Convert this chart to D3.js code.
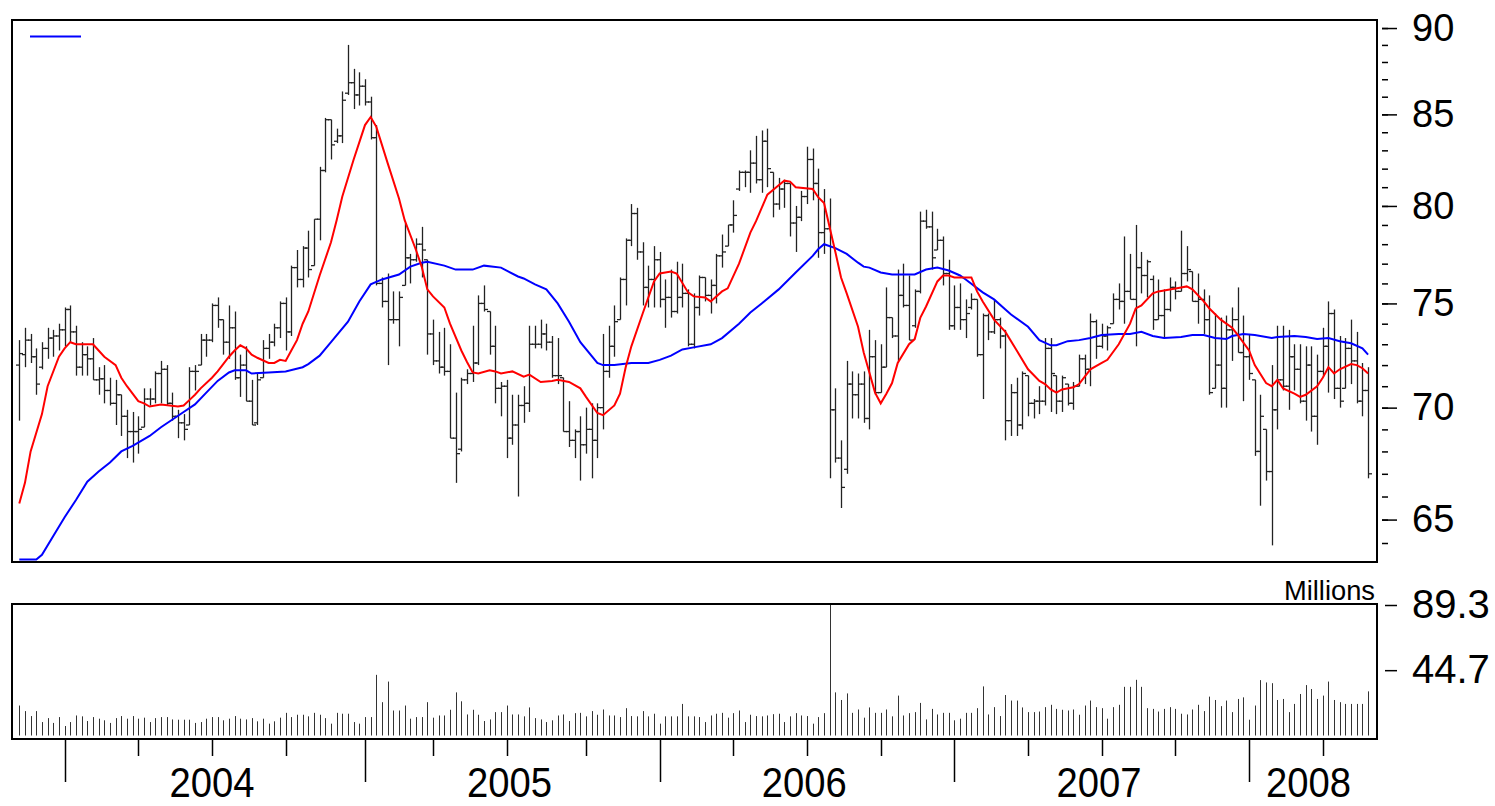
<!DOCTYPE html>
<html>
<head>
<meta charset="utf-8">
<script src="https://cdn.jsdelivr.net/npm/d3@7/dist/d3.min.js"></script>
<style>
  body { margin: 0; background: #fff; }
  svg { display: block; }
  text { font-family: "Liberation Sans", Arial, sans-serif; fill: #000; }
</style>
</head>
<body>
<svg id="chart" width="1495" height="806"></svg>
<script>
// weekly bars, first one is the week ending Fri 7 Nov 2003
const firstWeek = new Date(2003, 10, 7);

// [open, high, low, close]
const ohlc = [
  [72.0,73.2,69.4,72.55],[72.5,73.8,71.9,73.2],[73.2,73.5,72.1,72.4],[72.4,72.8,70.6,71.1],[71.9,73.1,71.8,72.8],
  [72.8,73.8,72.3,73.3],[73.3,73.7,72.4,73.4],[73.4,74.0,72.7,73.7],[73.7,74.8,72.9,74.7],[74.7,74.9,73.1,73.6],
  [73.6,73.9,71.5,71.9],[71.9,73.1,71.5,72.5],[72.5,72.9,71.5,72.3],[72.3,73.3,71.3,71.3],[71.3,71.9,70.6,71.35],
  [71.35,72.0,70.2,70.8],[70.8,71.4,70.1,70.2],[70.2,71.3,69.2,70.6],[70.6,70.6,68.7,69.6],[69.6,69.9,67.7,68.9],
  [68.9,69.8,67.5,68.9],[68.9,69.6,67.9,69.0],[69.1,70.9,69.1,70.4],[70.4,70.9,70.1,70.4],[70.4,71.7,70.2,71.6],
  [71.6,72.2,70.2,71.8],[71.8,72.0,70.1,70.2],[70.2,70.7,69.4,69.6],[69.6,69.9,68.6,69.3],[69.3,69.7,68.5,69.0],
  [69.2,71.9,69.2,71.7],[71.7,72.0,70.8,71.7],[72.0,73.5,72.0,73.2],[73.2,73.5,72.4,73.2],[73.2,75.0,73.1,74.9],
  [74.9,75.3,73.8,74.2],[74.2,74.2,72.5,73.1],[73.1,74.9,72.3,73.8],[73.8,74.6,71.3,71.4],[71.4,72.5,70.5,72.0],
  [72.0,72.9,70.3,70.3],[70.3,71.3,69.2,69.2],[69.3,71.6,69.2,71.3],[71.4,73.2,71.4,72.8],[72.8,73.5,72.3,73.1],
  [73.1,74.0,72.9,73.8],[73.8,75.1,73.3,75.0],[75.0,75.3,72.7,73.6],[73.6,76.9,73.4,76.8],[76.8,77.7,75.8,76.2],
  [76.2,77.9,75.8,77.8],[77.8,78.7,76.3,76.7],[76.9,79.3,76.9,79.3],[79.3,82.1,78.2,81.9],[81.9,84.8,81.8,84.7],
  [84.7,84.7,82.5,83.3],[83.5,84.2,83.4,83.8],[83.8,86.3,83.4,85.8],[86.2,89.0,86.1,86.8],[86.8,87.6,85.3,86.1],
  [86.1,87.4,85.5,86.6],[86.6,87.0,85.5,85.7],[85.7,86.0,83.6,83.7],[83.7,84.4,75.9,76.0],[76.0,76.3,74.8,75.1],
  [75.1,76.5,72.0,74.2],[74.2,75.6,74.0,74.2],[74.2,75.6,72.9,75.3],[75.9,79.1,75.9,77.3],[77.3,77.5,76.0,77.2],
  [77.2,78.3,77.1,78.0],[78.0,78.9,76.3,77.7],[77.2,77.2,72.5,73.5],[73.5,74.2,72.0,72.2],[72.2,73.6,71.6,71.9],
  [71.9,73.8,71.5,71.7],[71.7,73.0,68.6,68.6],[68.6,70.7,66.6,67.9],[68.1,71.4,68.0,71.3],[71.3,71.8,71.1,71.6],
  [71.6,73.9,71.2,72.1],[72.1,75.4,72.0,75.0],[75.0,75.9,74.6,74.7],[74.6,74.6,72.5,72.9],[72.9,73.9,70.2,70.9],
  [70.9,71.2,69.6,71.0],[71.0,71.3,67.7,68.6],[68.6,70.6,68.3,69.2],[69.2,70.6,66.0,70.1],[70.1,71.0,69.3,70.2],
  [70.2,73.9,69.8,73.0],[73.0,73.9,72.8,73.0],[73.0,74.2,72.8,73.5],[73.5,74.0,72.7,73.1],[73.1,73.4,71.4,71.5],
  [71.5,73.3,71.1,71.5],[71.4,71.4,68.9,68.9],[68.9,70.3,68.2,68.5],[68.5,69.0,67.7,68.9],[68.9,69.6,66.7,68.3],
  [68.3,70.0,67.9,69.0],[69.0,70.2,66.8,68.5],[68.5,70.2,67.7,70.0],[70.0,73.5,69.0,71.7],[71.7,73.9,71.4,72.9],
  [72.9,74.9,72.4,74.1],[74.2,76.3,74.2,76.2],[76.2,78.3,74.9,78.2],[78.2,80.1,77.9,79.6],[79.6,79.9,77.2,77.6],
  [77.6,78.1,74.9,75.8],[75.8,76.9,74.8,76.2],[76.2,77.9,74.8,77.2],[77.2,77.6,74.8,75.2],[75.2,76.2,73.8,75.3],
  [75.3,76.7,74.3,74.6],[74.6,77.1,74.5,75.3],[75.3,77.0,74.8,75.5],[75.5,75.7,72.9,73.0],[73.0,75.5,72.8,74.8],
  [74.8,76.4,74.4,76.3],[76.3,76.3,75.1,75.4],[75.4,76.2,74.5,75.9],[75.9,77.5,75.0,77.4],[77.4,78.5,76.8,77.6],
  [77.9,79.0,77.9,79.0],[79.0,80.3,78.6,79.5],[80.9,81.9,80.8,81.8],[81.8,81.9,81.0,81.8],[81.8,83.0,80.7,82.3],
  [82.3,83.8,81.2,81.4],[81.4,84.1,80.7,83.5],[83.5,84.2,81.0,82.0],[81.8,81.8,79.4,80.1],[80.1,81.5,79.8,80.9],
  [80.9,81.4,79.9,81.2],[81.2,81.2,78.4,79.1],[79.1,80.0,77.6,79.4],[79.4,80.8,79.2,80.5],[80.5,83.2,80.1,82.5],
  [82.5,83.1,80.3,81.2],[81.2,82.0,77.3,78.6],[78.6,80.9,77.5,78.8],[78.8,80.4,66.8,69.9],[69.9,70.9,67.5,67.7],
  [67.7,68.5,65.5,66.4],[67.2,72.2,67.0,71.1],[71.1,71.7,69.5,70.6],[70.6,71.6,69.5,71.1],[71.1,71.7,69.3,69.5],
  [69.5,73.7,69.0,72.4],[72.4,73.2,70.6,70.7],[70.7,73.0,70.7,71.9],[71.9,75.8,71.9,74.3],[74.3,74.3,73.3,73.4],
  [73.4,76.7,72.2,75.4],[75.4,77.0,74.8,74.9],[74.9,76.4,73.2,73.2],[73.9,75.7,73.8,75.6],[75.6,79.7,75.5,79.2],
  [79.2,79.8,78.8,78.9],[78.9,79.7,76.7,77.3],[77.7,78.8,77.7,78.2],[78.2,78.4,75.9,76.5],[76.5,77.2,73.7,73.9],
  [73.9,75.9,73.7,74.8],[74.8,76.0,73.7,74.2],[74.2,75.2,73.3,74.5],[74.8,75.5,74.7,75.2],[75.2,75.2,72.4,72.5],
  [72.5,74.5,70.4,74.4],[74.4,74.5,73.2,73.6],[73.6,75.2,73.5,74.2],[74.2,74.3,72.8,73.4],[73.4,73.7,68.5,69.4],
  [69.4,71.1,68.7,70.7],[70.7,71.4,68.7,69.2],[69.2,71.7,69.0,71.6],[71.5,71.5,69.6,70.2],[70.2,70.4,69.5,70.3],
  [70.3,71.0,69.7,70.3],[70.3,73.3,70.1,72.8],[72.8,73.3,69.8,71.6],[71.5,71.5,69.7,70.3],[70.3,71.5,69.8,71.4],
  [71.1,71.1,70.1,70.2],[70.2,71.2,69.9,71.0],[71.0,72.5,71.0,72.3],[72.3,72.5,71.1,71.8],[71.8,74.5,71.0,74.1],
  [74.1,74.2,72.3,72.9],[72.9,74.0,72.8,73.4],[73.4,73.9,72.7,73.8],[74.0,75.5,74.0,75.2],[75.2,76.0,74.7,75.1],
  [75.1,78.4,74.0,75.6],[75.6,77.5,75.2,75.2],[75.2,79.0,72.9,76.8],[76.8,77.6,75.5,76.4],[76.4,77.2,75.3,77.1],
  [76.2,76.4,73.7,74.2],[74.2,76.2,74.2,74.4],[74.4,75.7,73.3,74.7],[74.7,76.3,74.6,75.8],[75.8,76.1,75.2,75.6],
  [75.6,78.7,75.6,76.5],[76.5,77.9,76.1,76.7],[76.6,76.6,75.1,75.1],[75.1,76.5,74.0,75.2],[75.2,75.7,73.5,74.2],
  [74.2,75.4,70.6,70.7],[70.9,74.5,70.9,72.0],[72.0,74.3,70.0,70.9],[70.9,74.4,70.0,73.7],[73.7,74.8,72.2,74.2],
  [74.2,75.8,72.6,72.6],[72.6,74.4,70.3,72.4],[72.4,73.5,71.3,71.6],[71.3,71.3,67.8,68.0],[68.0,70.6,65.6,69.6],
  [69.0,69.0,66.7,67.1],[67.1,72.0,63.9,69.9],[69.9,73.9,69.0,71.3],[71.3,73.9,70.8,71.0],[71.0,73.7,69.9,72.4],
  [72.4,73.0,70.8,71.8],[71.8,73.0,70.2,70.3],[70.3,72.9,69.4,72.0],[72.0,72.9,68.9,69.6],[69.6,72.5,68.3,71.7],
  [71.7,73.8,71.5,72.9],[72.9,75.1,70.7,74.5],[74.5,74.7,70.4,70.9],[70.9,73.4,70.0,70.3],[70.9,73.3,70.9,72.8],
  [72.8,74.2,71.1,72.2],[72.2,73.6,70.2,70.3],[70.3,72.1,69.6,70.8],[70.8,71.9,66.8,67.0]
];

// weekly volume, millions of shares
const volume = [
  20.5,16.7,13.3,16.7,9.2,11.9,8.6,12.6,6.5,9.2,
  13.7,13.1,9.9,12.6,11.5,10.4,8.6,11.9,13.3,11.5,
  13.3,11.5,12.2,9.2,11.9,12.6,12.6,11.0,10.8,10.8,
  10.8,8.6,9.2,11.5,12.6,12.6,10.4,11.5,13.3,11.5,
  11.0,11.9,9.7,11.5,8.1,9.7,12.2,15.5,12.6,14.2,
  14.2,13.1,15.5,14.2,11.9,8.1,15.5,14.9,14.9,9.2,
  8.1,12.6,12.6,41.5,22.8,36.9,17.1,17.1,20.5,11.5,
  12.6,12.6,22.8,12.2,13.7,13.7,17.6,29.5,23.4,14.4,
  17.6,14.2,9.9,11.0,16.0,16.0,20.5,14.4,14.4,13.1,
  19.2,11.9,11.0,9.2,10.4,13.7,14.4,9.9,15.3,15.5,
  13.1,16.7,14.2,17.8,13.7,13.7,12.6,18.7,13.3,13.1,
  16.7,13.1,14.9,8.1,13.1,13.1,13.1,21.6,13.1,13.1,
  12.6,9.2,13.7,14.9,15.5,12.2,15.3,17.1,9.2,14.2,
  13.3,13.1,13.7,14.6,14.9,9.2,13.1,15.3,13.7,13.3,
  8.1,12.6,15.3,89.3,29.5,24.3,28.8,15.5,17.8,12.2,
  19.2,15.5,15.5,17.8,13.1,27.3,13.7,15.3,16.0,22.3,
  11.0,18.2,14.4,15.5,15.5,10.4,11.5,15.5,15.5,18.7,
  33.6,14.4,19.4,13.3,27.7,23.9,23.9,19.2,16.0,16.0,
  16.4,19.4,21.0,18.2,17.6,17.1,17.8,14.2,20.5,23.9,
  19.4,18.7,11.5,19.4,21.0,33.3,33.3,38.1,33.3,18.7,
  18.2,16.4,18.2,19.4,18.2,14.9,14.4,17.8,21.0,16.7,
  26.6,24.3,20.1,23.9,16.0,25.0,26.1,10.8,20.5,37.9,
  36.3,35.8,24.3,25.0,16.0,21.6,28.4,34.5,31.8,25.0,
  27.3,36.9,24.3,22.8,21.6,21.6,21.6,21.6,30.2
];

// moving averages: [week index, price]
const maShort = [
  [0,65.7],[1,66.6],[2,68.0],[4,69.7],[5,71.0],[7,72.4],[8,72.8],[9,73.1],[10,73.0],[12,73.0],[13,73.0],
  [14,72.7],[15,72.4],[17,72.0],[18,71.4],[19,71.0],[21,70.3],[22,70.2],[23,70.05],[25,70.15],[28,70.05],
  [29,70.1],[30,70.35],[31,70.6],[32,70.9],[34,71.4],[35,71.7],[37,72.4],[38,72.7],[39,72.95],[40,72.8],
  [41,72.5],[42,72.35],[44,72.1],[45,72.1],[46,72.25],[47,72.2],[48,72.7],[49,73.2],[50,74.0],[51,74.6],
  [53,76.4],[55,78.1],[56,79.25],[57,80.5],[59,82.5],[61,84.4],[62,84.85],[63,84.3],[65,82.3],[67,80.4],
  [68,79.25],[70,77.7],[71,76.85],[72,75.7],[73,75.35],[75,74.8],[76,74.0],[78,72.7],[79,72.15],[80,71.65],
  [81,71.6],[83,71.75],[84,71.7],[85,71.6],[87,71.7],[89,71.45],[90,71.55],[92,71.2],[94,71.25],[95,71.3],
  [97,71.2],[99,70.9],[100,70.5],[102,69.75],[103,69.65],[105,70.1],[106,70.65],[107,71.9],[108,72.9],
  [110,74.5],[112,76.1],[113,76.5],[115,76.6],[116,76.5],[118,75.55],[119,75.35],[121,75.3],[122,75.1],
  [124,75.6],[125,75.75],[127,77.0],[129,78.6],[130,79.2],[132,80.6],[134,81.1],[135,81.35],[136,81.3],
  [137,81.0],[140,80.9],[141,80.45],[142,80.15],[144,77.6],[145,76.3],[146,75.5],[148,73.85],[149,72.6],
  [151,70.7],[152,70.2],[153,70.65],[154,71.15],[155,72.1],[157,73.0],[158,73.25],[159,74.3],[160,74.85],
  [162,76.1],[163,76.4],[164,76.4],[165,76.3],[167,76.3],[168,76.3],[169,75.6],[170,75.1],[172,74.2],
  [174,73.6],[176,72.7],[178,71.8],[180,71.25],[181,71.1],[182,70.85],[183,70.7],[184,70.85],[186,70.95],
  [187,71.1],[189,71.8],[191,72.1],[192,72.25],[194,73.0],[196,74.0],[197,74.75],[198,74.9],[200,75.5],
  [201,75.6],[202,75.65],[205,75.8],[206,75.85],[207,75.7],[209,75.1],[210,74.75],[212,74.2],[214,73.8],
  [215,73.45],[217,72.7],[218,72.0],[220,71.15],[221,71.0],[222,71.3],[223,70.9],[225,70.65],[226,70.5],
  [227,70.6],[229,71.0],[230,71.4],[231,71.9],[232,71.6],[233,71.8],[235,72.05],[236,72.0],[237,71.85],[238,71.6]
];
const maLong = [
  [0,63.3],[3,63.3],[4,63.5],[6,64.3],[8,65.1],[10,65.85],[12,66.65],[14,67.1],[16,67.5],[18,68.0],
  [20,68.25],[23,68.7],[25,69.1],[29,69.8],[31,70.15],[33,70.7],[35,71.25],[37,71.65],[38,71.75],[40,71.75],
  [41,71.6],[44,71.65],[47,71.7],[50,71.9],[51,72.05],[53,72.45],[55,73.1],[58,74.1],[60,75.1],[62,75.95],
  [64,76.2],[67,76.45],[69,76.85],[71,77.05],[72,77.1],[75,76.9],[77,76.7],[80,76.7],[82,76.9],[85,76.8],
  [88,76.35],[89,76.25],[91,75.95],[93,75.7],[95,75.0],[97,74.1],[99,73.1],[102,72.1],[103,72.0],[105,72.0],
  [108,72.1],[111,72.1],[113,72.25],[115,72.45],[117,72.75],[119,72.85],[122,73.0],[124,73.3],[127,74.0],
  [129,74.55],[131,75.0],[134,75.7],[137,76.55],[140,77.4],[141,77.75],[142,78.0],[144,77.8],[146,77.5],
  [148,77.05],[149,76.85],[150,76.8],[152,76.55],[154,76.45],[158,76.45],[160,76.7],[162,76.8],[164,76.65],
  [166,76.4],[167,76.2],[170,75.55],[172,75.2],[174,74.7],[175,74.45],[178,73.85],[180,73.2],[182,72.95],
  [183,72.95],[185,73.15],[187,73.2],[189,73.3],[191,73.45],[194,73.5],[196,73.5],[198,73.6],[200,73.4],
  [202,73.3],[205,73.35],[207,73.45],[209,73.45],[211,73.3],[213,73.25],[214,73.4],[216,73.5],[218,73.45],
  [221,73.3],[222,73.35],[225,73.4],[227,73.35],[229,73.25],[231,73.3],[233,73.15],[235,73.05],[237,72.8],[238,72.5]
];

const priceTicks = [65, 70, 75, 80, 85, 90];
const volTicks = [44.7, 89.3];
const volUnit = "Millions";

const svg = d3.select("#chart");
const weeks = d3.timeFriday.range(firstWeek, d3.timeDay.offset(firstWeek, 7 * ohlc.length));

const plot = { left: 12, right: 1377, top: 20, bottom: 562 };
const vplot = { top: 604, bottom: 739 };

const x = d3.scaleTime()
    .domain([new Date(2003, 9, 29), new Date(2008, 5, 10)])
    .range([plot.left, plot.right]);

const y = d3.scaleLog()
    .domain([63.2, 90.48])
    .range([plot.bottom, plot.top]);

const vy = d3.scaleLinear()
    .domain([0, 89.3])
    .range([735.5, 605]);

svg.append("defs").append("clipPath").attr("id", "clipPrice")
    .append("rect")
    .attr("x", plot.left).attr("y", plot.top)
    .attr("width", plot.right - plot.left).attr("height", plot.bottom - plot.top);

// price bars
const bars = svg.append("g").attr("stroke", "#222").attr("stroke-width", 1.3);
bars.selectAll("g.bar")
    .data(ohlc)
    .enter()
    .append("g")
    .attr("class", "bar")
    .each(function (d, i) {
        const g = d3.select(this);
        const cx = Math.round(x(weeks[i])) + 0.5;
        g.append("line").attr("x1", cx).attr("x2", cx).attr("y1", y(d[1])).attr("y2", y(d[2]));
        g.append("line").attr("x1", cx - 3.5).attr("x2", cx).attr("y1", y(d[0])).attr("y2", y(d[0]));
        g.append("line").attr("x1", cx).attr("x2", cx + 3.5).attr("y1", y(d[3])).attr("y2", y(d[3]));
    });

// moving averages
const maLine = d3.line()
    .x(d => x(weeks[d[0]]))
    .y(d => y(d[1]));

const lines = svg.append("g").attr("clip-path", "url(#clipPrice)");
lines.append("path").datum(maLong)
    .attr("d", maLine).attr("fill", "none").attr("stroke", "#0000ff").attr("stroke-width", 2);
lines.append("path").datum(maShort)
    .attr("d", maLine).attr("fill", "none").attr("stroke", "#ff0000").attr("stroke-width", 2);

// legend stub (no label in the original)
svg.append("line")
    .attr("x1", 30).attr("x2", 81).attr("y1", 36.5).attr("y2", 36.5)
    .attr("stroke", "#0000ff").attr("stroke-width", 2);

// frames
svg.append("rect")
    .attr("x", plot.left).attr("y", plot.top)
    .attr("width", plot.right - plot.left).attr("height", plot.bottom - plot.top)
    .attr("fill", "none").attr("stroke", "#000").attr("stroke-width", 2);
svg.append("rect")
    .attr("x", plot.left).attr("y", vplot.top)
    .attr("width", plot.right - plot.left).attr("height", vplot.bottom - vplot.top)
    .attr("fill", "none").attr("stroke", "#000").attr("stroke-width", 2);

// volume
svg.append("g").attr("stroke", "#333").attr("stroke-width", 1)
    .selectAll("line")
    .data(volume)
    .enter()
    .append("line")
    .attr("x1", (d, i) => Math.round(x(weeks[i])) + 0.5)
    .attr("x2", (d, i) => Math.round(x(weeks[i])) + 0.5)
    .attr("y1", vy(0))
    .attr("y2", d => vy(d));

// right price axis: minor ticks every unit, labelled majors
const minorAxis = svg.append("g")
    .attr("transform", `translate(${plot.right + 5},0)`)
    .call(d3.axisRight(y).tickValues(d3.range(64, 91)).tickSize(6).tickFormat(""));
minorAxis.select(".domain").remove();

const majorAxis = svg.append("g")
    .attr("transform", `translate(${plot.right + 5},0)`)
    .call(d3.axisRight(y).tickValues(priceTicks).tickSize(15).tickPadding(15).tickFormat(d3.format("d")));
majorAxis.select(".domain").remove();

const volAxis = svg.append("g")
    .attr("transform", `translate(${plot.right + 8},0)`)
    .call(d3.axisRight(vy).tickValues(volTicks).tickSize(12).tickPadding(15).tickFormat(d3.format(".1f")));
volAxis.select(".domain").remove();

svg.selectAll(".tick line").attr("stroke", "#000").attr("stroke-width", 1.5);
majorAxis.selectAll("text").attr("font-size", 38).attr("font-family", "Liberation Sans, Arial, sans-serif");
volAxis.selectAll("text")
    .attr("font-size", 40)
    .attr("font-family", "Liberation Sans, Arial, sans-serif");

svg.append("text")
    .attr("x", plot.right - 2).attr("y", 600)
    .attr("text-anchor", "end")
    .attr("font-size", 27)
    .attr("textLength", 91)
    .attr("lengthAdjust", "spacingAndGlyphs")
    .text(volUnit);

// time axis: a tick at the first bar of every quarter, long ones for years
const quarterStarts = weeks.filter((d, i) => i > 0 && d.getMonth() % 3 === 0 && weeks[i - 1].getMonth() !== d.getMonth());
svg.append("g").selectAll("line")
    .data(quarterStarts)
    .enter()
    .append("line")
    .attr("x1", d => Math.round(x(d)) + 0.5)
    .attr("x2", d => Math.round(x(d)) + 0.5)
    .attr("y1", vplot.bottom)
    .attr("y2", d => d.getMonth() === 0 ? 782 : 756)
    .attr("stroke", "#000").attr("stroke-width", 1.5);

// year labels centred on the bars that belong to each year
const years = d3.groups(weeks, d => d.getFullYear()).filter(g => g[1].length > 20);
svg.append("g").selectAll("text")
    .data(years)
    .enter()
    .append("text")
    .attr("x", g => (x(g[1][0]) + x(g[1][g[1].length - 1])) / 2)
    .attr("y", 797)
    .attr("text-anchor", "middle")
    .attr("font-size", 42)
    .attr("textLength", 85)
    .attr("lengthAdjust", "spacingAndGlyphs")
    .text(g => g[0]);
</script>
</body>
</html>
